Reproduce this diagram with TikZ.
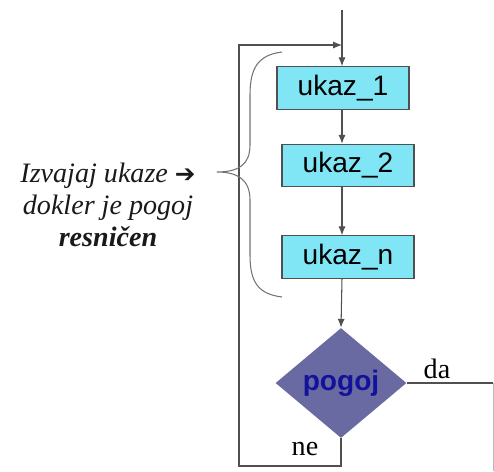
\documentclass[tikz,border=0pt]{standalone}
\usepackage{fontspec}
\setmainfont{Liberation Serif}
\setsansfont{Liberation Sans}
\newfontfamily\symfont{DejaVu Sans}
\usetikzlibrary{shapes.geometric,arrows.meta}

\definecolor{boxcyan}{HTML}{80E6F6}
\definecolor{condfill}{HTML}{6A6AA2}
\definecolor{condtext}{HTML}{12129A}
\definecolor{flowline}{HTML}{505050}

\tikzset{
  ukaz/.style={draw=flowline,fill=boxcyan,line width=0.6pt,
    minimum width=2.64cm,minimum height=0.85cm,inner sep=0pt,
    font=\sffamily\fontsize{16}{18}\selectfont},
  pogoj/.style={diamond,draw=none,fill=condfill,inner sep=0pt,
    minimum width=2.62cm,minimum height=2.2cm,
    font=\sffamily\bfseries\fontsize{16}{18}\selectfont,text=condtext},
  flow/.style={draw=flowline,line width=0.6pt},
  tip/.style={-{Latex[length=5pt,width=4pt]}},
  lbl/.style={font=\fontsize{16}{18}\selectfont}
}

\begin{document}
\begin{tikzpicture}[x=0.02cm,y=-0.02cm]
  \useasboundingbox (0,0) rectangle (494,471);

  \coordinate (top) at (342,10);      % entry
  \coordinate (loop) at (342,45);     % back edge joins here
  \coordinate (lowL) at (239,466);
  \coordinate (lowR) at (341,466);
  \coordinate (out) at (493,383);
  \coordinate (outEnd) at (493,471);

  % Statements
  \node[ukaz] (u1) at (343,88) {ukaz\_1};
  \node[ukaz] (u2) at (348,165.5) {ukaz\_2};
  \node[ukaz] (un) at (348,257) {ukaz\_n};

  % Condition
  \node[pogoj] (cond) at (341,383) {pogoj};

  % Forward flow
  \draw[flow,tip] (top) -- (loop) -- (loop |- u1.north);
  \draw[flow,tip] (u1.south -| loop) -- (loop |- u2.north);
  \draw[flow,tip] (u2.south -| loop) -- (loop |- un.north);
  \draw[flow,tip] (un.south -| loop) -- (cond.north);

  % Back edge (ne)
  \draw[flow,tip] (cond.south) -- (lowR) -- (lowL) -- (lowL |- loop) -- (loop);

  % Exit (da)
  \draw[flow] (cond.east) -- (out);
  \draw[draw=flowline!40,line width=0.5pt] (out) -- (outEnd);

  \node[lbl,anchor=base] (da) at (437,378) {da};
  \node[lbl,anchor=base] (ne) at (305,455) {ne};

  % Brace
  \draw[draw=flowline!80,line width=0.6pt]
    (282,52) .. controls (258,55) and (250,68) .. (250,95)
    -- (250,145) .. controls (250,165) and (238,172) .. (217,172)
    .. controls (238,172) and (250,180) .. (250,200)
    -- (250,255) .. controls (250,282) and (258,294) .. (282,297);

  % Explanation
  \node[align=center,font=\itshape\fontsize{16}{18.2}\selectfont,
        text=black!90] (note) at (108,205)
    {Izvajaj ukaze {\symfont\bfseries\fontsize{14}{18.2}\selectfont ➔}\\
     dokler je pogoj\\
     \textbf{resničen}};
\end{tikzpicture}
\end{document}
